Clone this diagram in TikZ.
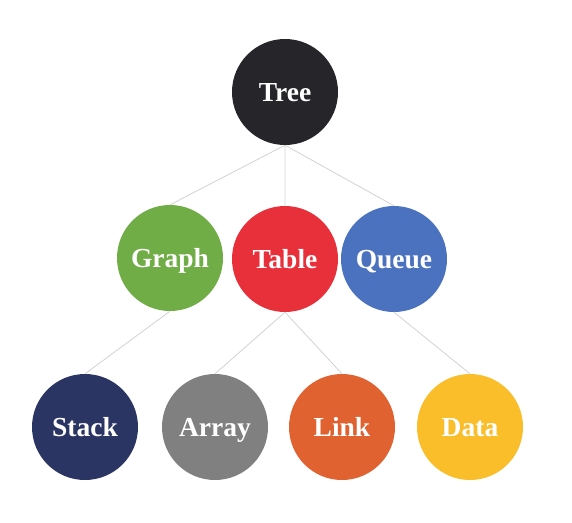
\documentclass[tikz,border=0pt]{standalone}
\usepackage{fontspec}
\setmainfont{Liberation Serif}
\begin{document}
\begin{tikzpicture}[line join=round,line cap=round,x=1pt,y=-1pt,
  ball/.style={circle,minimum size=106pt,inner sep=0pt,text=white,text height=18pt,text depth=0pt,font=\fontsize{27.5}{30}\selectfont\bfseries},
  link/.style={draw=gray!35,line width=0.8pt}]
\useasboundingbox (0,0) rectangle (572,522);
\definecolor{treeC}{HTML}{25252A}
\definecolor{graphC}{HTML}{70AD47}
\definecolor{tableC}{HTML}{E8303A}
\definecolor{queueC}{HTML}{4A72BE}
\definecolor{stackC}{HTML}{2B3564}
\definecolor{arrayC}{HTML}{808080}
\definecolor{linkC}{HTML}{E06230}
\definecolor{dataC}{HTML}{F9BE2A}
\node[ball,fill=treeC] (tree) at (285,92) {Tree};
\node[ball,fill=graphC] (graph) at (170,258) {Graph};
\node[ball,fill=tableC] (table) at (285,259) {Table};
\node[ball,fill=queueC] (queue) at (394,259) {Queue};
\node[ball,fill=stackC] (stack) at (85,427) {Stack};
\node[ball,fill=arrayC] (array) at (215,427) {Array};
\node[ball,fill=linkC] (linkn) at (342,427) {Link};
\node[ball,fill=dataC] (data) at (470,427) {Data};
\draw[link] (tree.south)--(graph.north) (tree.south)--(table.north) (tree.south)--(queue.north);
\draw[link] (graph.south)--(stack.north);
\draw[link] (table.south)--(array.north) (table.south)--(linkn.north);
\draw[link] (queue.south)--(data.north);
\end{tikzpicture}
\end{document}
